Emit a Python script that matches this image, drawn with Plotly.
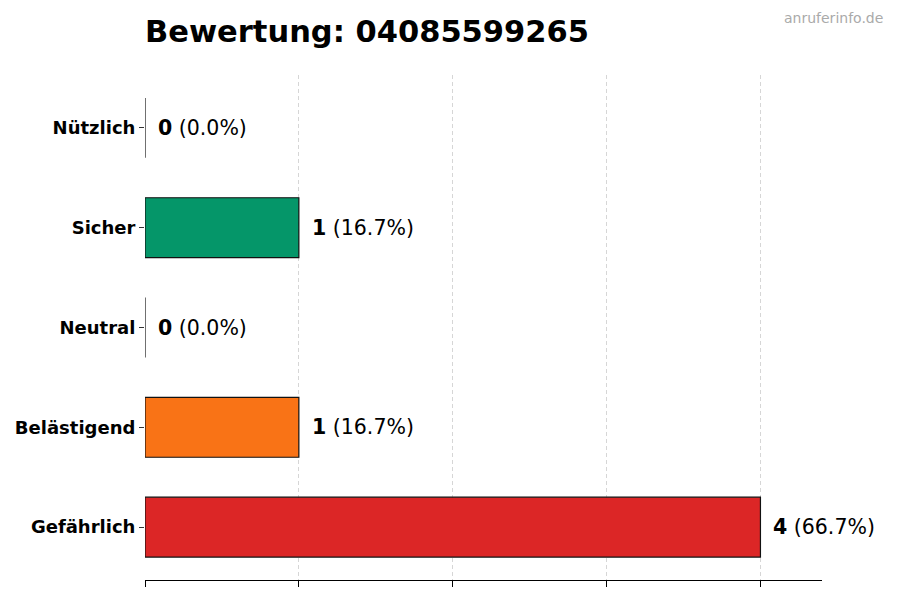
import plotly.graph_objects as go

categories = ["Gefährlich", "Belästigend", "Neutral", "Sicher", "Nützlich"]
values = [4, 1, 0, 1, 0]
colors = ["#dc2626", "#f97316", "#9ca3af", "#059669", "#10b981"]
title_text = "Bewertung: 04085599265"
watermark = "anruferinfo.de"

total = sum(values)
font = "DejaVu Sans"

fig = go.Figure()
fig.add_trace(go.Bar(
    x=values, y=categories, orientation="h", width=0.6,
    marker=dict(color=colors, line=dict(color="#111111", width=1.2)),
    hoverinfo="skip",
))

annotations = []
for c, v in zip(categories, values):
    pct = 100.0 * v / total if total else 0
    annotations.append(dict(
        x=v, y=c, xref="x", yref="y", xanchor="left", yanchor="middle",
        xshift=11, showarrow=False,
        text=f"<b>{v}</b> ({pct:.1f}%)",
        font=dict(family=font, size=20.5, color="#000000"),
    ))
annotations.append(dict(
    x=(885 - 145) / 677, y=(580 - 18) / 505, xref="paper", yref="paper",
    xanchor="right", yanchor="middle", showarrow=False,
    text=watermark, font=dict(family=font, size=14, color="#aaaaaa"),
))

fig.update_layout(
    width=900, height=600,
    margin=dict(l=145, r=78, t=75, b=20, autoexpand=False),
    paper_bgcolor="white", plot_bgcolor="white",
    showlegend=False,
    title=dict(text=f"<b>{title_text}</b>", x=145/900, xanchor="left", y=1 - 31/600, yanchor="middle",
               font=dict(family=font, size=30.5, color="#000000")),
    annotations=annotations,
    bargap=0.4,
)
fig.update_xaxes(
    range=[0, 4.4], showgrid=True, gridcolor="#d6d6d6", griddash="4px,3px", gridwidth=1,
    tickvals=[0, 1, 2, 3, 4], showticklabels=False, ticks="outside", ticklen=6,
    tickcolor="#000000", showline=True, linecolor="#000000", linewidth=1.2,
    zeroline=False, layer="above traces",
)
fig.update_yaxes(
    range=[-0.53, 4.53], categoryorder="array", categoryarray=categories,
    ticks="outside", ticklen=5, tickcolor="#333333", showline=False, showgrid=False,
    zeroline=False,
    tickfont=dict(family=font, size=18, color="#000000"),
)
fig.update_yaxes(ticktext=[f"<b>{c}</b>" for c in categories], tickvals=categories)

fig.write_html("out.html", config={"displayModeBar": False},
               post_script="document.body.style.margin='0';")
